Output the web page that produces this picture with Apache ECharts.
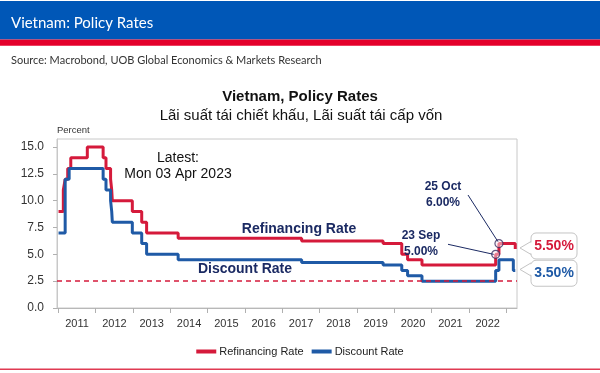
<!DOCTYPE html>
<html><head><meta charset="utf-8">
<script src="https://cdn.jsdelivr.net/npm/echarts@6/dist/echarts.min.js"></script>
<style>html,body{margin:0;padding:0;background:#fff}#c{width:600px;height:373px}</style>
</head><body><div id="c"></div>
<script>
// ---- data ----
const yearLabels = ['2011','2012','2013','2014','2015','2016','2017','2018','2019','2020','2021','2022'];
const yTicks = [0, 2.5, 5, 7.5, 10, 12.5, 15];
const refiDates = ['2011-01-01','2011-02-17','2011-03-07','2011-04-01','2011-05-01','2011-10-10','2012-03-13','2012-04-10','2012-05-25','2012-06-05','2012-06-11','2012-12-24','2013-03-26','2013-05-13','2014-03-18','2017-07-10','2019-09-16','2020-03-17','2020-05-13','2020-10-01','2022-09-23','2022-10-25','2023-04-03'];
const refiValues = [9, 11, 12, 13, 14, 15, 14, 13, 12, 11, 10, 9, 8, 7, 6.5, 6.25, 6, 5, 4.5, 4, 5, 6, 5.5];
const discDates = ['2011-01-01','2011-03-07','2011-04-15','2012-03-13','2012-04-10','2012-05-25','2012-06-05','2012-06-11','2012-12-24','2013-03-26','2013-05-13','2014-03-18','2017-07-10','2019-09-16','2020-03-17','2020-05-13','2020-10-01','2022-09-23','2022-10-25','2023-03-15','2023-04-03'];
const discValues = [7, 12, 13, 12, 11, 10, 9, 8, 7, 6, 5, 4.5, 4.25, 4, 3.5, 3, 2.5, 3.5, 4.5, 3.5, 3.5];
const dashedLevel = 2.5;
const noteDates = ['2022-09-23', '2022-10-25'];
const noteNames = ['23 Sep', '25 Oct'];
const noteValues = [5.0, 6.0];
const latestText = 'Mon 03 Apr 2023';
const axisRange = ['2010-12-17', '2023-04-20'];

// ---- helpers ----
const ts = s => { const p = s.split('-').map(Number); return Date.UTC(p[0], p[1] - 1, p[2]); };
const RED = '#d51a3b', BLUE = '#1f5aa6', NAVY = '#1b2a63';
const FONT = 'Liberation Sans, Arial, sans-serif';

const chart = echarts.init(document.getElementById('c'), null, {renderer: 'canvas'});
chart.setOption({
  animation: false,
  backgroundColor: '#fff',
  textStyle: {fontFamily: FONT},
  grid: [
    {left: 57, top: 139, width: 460, height: 169, show: true, borderColor: '#c8c8c8', borderWidth: 1, backgroundColor: 'transparent'},
    {left: 58.4, top: 139, width: 448, height: 169, show: false}
  ],
  xAxis: [
    {type: 'time', gridIndex: 0, min: ts(axisRange[0]), max: ts(axisRange[1]),
     axisLine: {show: true, lineStyle: {color: '#b8b8b8'}}, axisTick: {show: false}, axisLabel: {show: false}, splitLine: {show: false}},
    {type: 'category', gridIndex: 1, data: yearLabels, boundaryGap: true,
     axisLine: {show: false}, axisTick: {show: true, length: 5, interval: 0, lineStyle: {color: '#b0b0b0'}},
     axisLabel: {interval: 0, color: '#333', fontSize: 11, margin: 10, fontFamily: FONT}, splitLine: {show: false}}
  ],
  yAxis: [
    {type: 'value', gridIndex: 0, min: 0, max: 15.75, interval: 2.5,
     name: 'Percent', nameLocation: 'end', nameGap: 4,
     nameTextStyle: {align: 'left', verticalAlign: 'bottom', fontSize: 9.5, color: '#333', fontFamily: FONT},
     axisLine: {show: true, lineStyle: {color: '#c8c8c8'}},
     axisTick: {show: true, length: 4, customValues: yTicks, lineStyle: {color: '#b0b0b0'}},
     axisLabel: {customValues: yTicks, color: '#333', fontSize: 12, margin: 13, fontFamily: FONT,
       formatter: v => (Math.abs(v / 2.5 - Math.round(v / 2.5)) < 1e-9 ? v.toFixed(1) : '')},
     splitLine: {show: false}},
    {type: 'value', gridIndex: 1, show: false}
  ],
  legend: {
    data: ['Refinancing Rate', 'Discount Rate'], top: 341, left: 'center',
    icon: 'rect', itemWidth: 20, itemHeight: 4, itemGap: 8,
    textStyle: {fontSize: 11, color: '#222', fontFamily: FONT, padding: [0, 0, 0, -2]}
  },
  series: [
    {name: 'Refinancing Rate', type: 'line', step: 'end', xAxisIndex: 0, yAxisIndex: 0,
     showSymbol: false, symbol: 'none', color: RED, lineStyle: {width: 3, color: RED},
     data: refiDates.map((d, i) => [ts(d), refiValues[i]]),
     markLine: {silent: true, symbol: ['none', 'none'], label: {show: false},
       lineStyle: {type: [5, 4], color: RED, width: 1.5}, data: [{yAxis: dashedLevel}]}},
    {name: 'Discount Rate', type: 'line', step: 'end', xAxisIndex: 0, yAxisIndex: 0,
     showSymbol: false, symbol: 'none', color: BLUE, lineStyle: {width: 3, color: BLUE},
     data: discDates.map((d, i) => [ts(d), discValues[i]])},
    {name: 'notes', type: 'scatter', xAxisIndex: 0, yAxisIndex: 0, z: 5,
     symbolSize: 8, itemStyle: {color: 'rgba(255,235,240,0.6)', borderColor: '#3c2f63', borderWidth: 1.2},
     data: noteDates.map((d, i) => [ts(d), noteValues[i]])}
  ]
});

// ---- annotations anchored on data ----
const px = (d, v) => chart.convertToPixel({xAxisIndex: 0, yAxisIndex: 0}, [ts(d), v]);
const nP = noteDates.map((d, i) => px(d, noteValues[i]));
const lastR = px(refiDates[refiDates.length - 1], refiValues[refiValues.length - 1]);
const lastD = px(discDates[discDates.length - 1], discValues[discValues.length - 1]);

function callout(p, val, color, dy) {
  const cy = p[1] + dy, ty = p[1] - 1, bx = 531, bw = 46, bh = 26, tipX = 520;
  return [
    {type: 'rect', z: 100, shape: {x: bx, y: cy - bh / 2, width: bw, height: bh, r: 5},
     style: {fill: '#fff', stroke: '#c4c4c4', lineWidth: 1}},
    {type: 'polygon', z: 101, shape: {points: [[tipX, ty], [bx + 1.5, ty - 6], [bx + 1.5, ty + 6]]},
     style: {fill: '#fff', stroke: null}},
    {type: 'polyline', z: 102, shape: {points: [[bx, ty - 6.5], [tipX, ty], [bx, ty + 6.5]]},
     style: {stroke: '#c4c4c4', lineWidth: 1, fill: null}},
    {type: 'text', z: 103, x: bx + bw / 2, y: cy,
     style: {text: val.toFixed(2) + '%', fill: color, font: 'bold 14px ' + FONT, textAlign: 'center', textVerticalAlign: 'middle'}}
  ];
}

const g = [
  {type: 'rect', z: 100, shape: {x: 0, y: 1, width: 600, height: 38.5}, style: {fill: '#0057b7'}},
  {type: 'rect', z: 100, shape: {x: 0, y: 39.5, width: 600, height: 6.3}, style: {fill: '#e4002b'}},
  {type: 'text', z: 101, x: 11, y: 23, style: {text: 'Vietnam: Policy Rates', fill: '#fff', font: '15px Lato, "Open Sans", sans-serif', textVerticalAlign: 'middle'}},
  {type: 'text', z: 101, x: 11, y: 60, style: {text: 'Source: Macrobond, UOB Global Economics & Markets Research', fill: '#333', font: '11px Lato, "Open Sans", sans-serif', textVerticalAlign: 'middle'}},
  {type: 'text', z: 101, x: 300, y: 97, style: {text: 'Vietnam, Policy Rates', fill: '#111', font: 'bold 15px ' + FONT, textAlign: 'center', textVerticalAlign: 'middle'}},
  {type: 'text', z: 101, x: 301, y: 115.5, style: {text: 'Lãi suất tái chiết khấu, Lãi suất tái cấp vốn', fill: '#111', font: '15px ' + FONT, textAlign: 'center', textVerticalAlign: 'middle'}},
  {type: 'text', z: 101, x: 178, y: 158, style: {text: 'Latest:', fill: '#111', font: '14px ' + FONT, textAlign: 'center', textVerticalAlign: 'middle'}},
  {type: 'text', z: 101, x: 178, y: 174.5, style: {text: latestText, fill: '#111', font: '14px ' + FONT, textAlign: 'center', textVerticalAlign: 'middle'}},
  {type: 'text', z: 101, x: 299, y: 229, style: {text: 'Refinancing Rate', fill: NAVY, font: 'bold 14px ' + FONT, textAlign: 'center', textVerticalAlign: 'middle'}},
  {type: 'text', z: 101, x: 245, y: 269, style: {text: 'Discount Rate', fill: NAVY, font: 'bold 14px ' + FONT, textAlign: 'center', textVerticalAlign: 'middle'}},
  {type: 'line', z: 101, shape: {x1: 448, y1: 244.3, x2: nP[0][0] - 2, y2: nP[0][1]}, style: {stroke: NAVY, lineWidth: 1}},
  {type: 'line', z: 101, shape: {x1: 468, y1: 195, x2: nP[1][0] - 1, y2: nP[1][1] - 2}, style: {stroke: NAVY, lineWidth: 1}},
  {type: 'text', z: 101, x: 421, y: 244, style: {text: noteNames[0] + '\n' + noteValues[0].toFixed(2) + '%', fill: NAVY, font: 'bold 12px ' + FONT, lineHeight: 16, textAlign: 'center', textVerticalAlign: 'middle'}},
  {type: 'text', z: 101, x: 443, y: 194.5, style: {text: noteNames[1] + '\n' + noteValues[1].toFixed(2) + '%', fill: NAVY, font: 'bold 12px ' + FONT, lineHeight: 16, textAlign: 'center', textVerticalAlign: 'middle'}},
  {type: 'rect', z: 100, shape: {x: 0, y: 368.6, width: 600, height: 1.5}, style: {fill: '#e03a52'}}
].concat(callout(lastR, refiValues[refiValues.length - 1], RED, -3), callout(lastD, discValues[discValues.length - 1], BLUE, 2.8));

chart.setOption({graphic: g});
</script>
</body></html>
